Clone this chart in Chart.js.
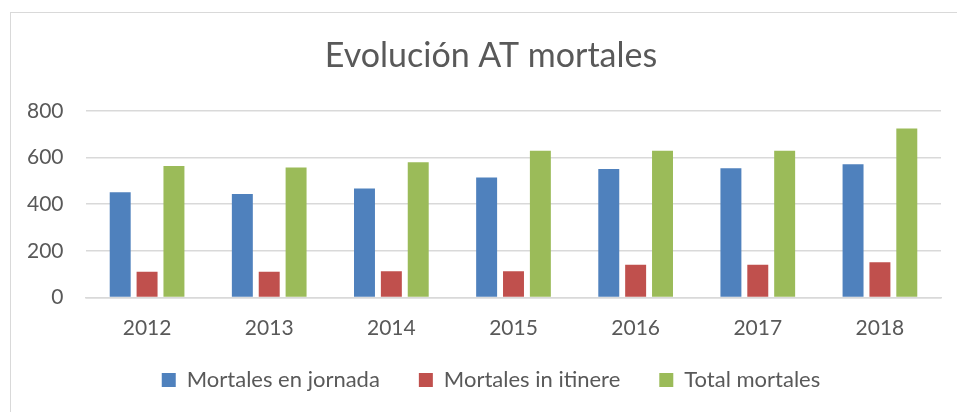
<!DOCTYPE html>
<html>
<head>
<meta charset="utf-8">
<script src="https://cdn.jsdelivr.net/npm/chart.js@4"></script>
<style>
    html, body { margin: 0; padding: 0; background: #fff; overflow: hidden; }
    .chart-box {
        position: absolute;
        left: 10px;
        top: 12px;
        width: 962px;
        height: 400px;
        border-left: 1px solid #d9d9d9;
        border-top: 1px solid #d9d9d9;
    }
</style>
</head>
<body>
<div class="chart-box">
    <canvas id="atChart" width="962" height="400"></canvas>
</div>
<script>
// Data
const years = ['2012', '2013', '2014', '2015', '2016', '2017', '2018'];
const mortalesJornada = [451, 444, 467, 514, 551, 554, 571];
const mortalesItinere = [110, 110, 113, 113, 140, 140, 151];
const totalMortales = [563, 557, 580, 629, 629, 629, 724];
const yTicks = [0, 200, 400, 600, 800];

const textColor = '#595959';
const fontFamily = 'Lato, "Open Sans", sans-serif';

document.addEventListener('DOMContentLoaded', function() {
    const ctx = document.getElementById('atChart').getContext('2d');
    const atChart = new Chart(ctx, {
        type: 'bar',
        data: {
            labels: years,
            datasets: [
                { label: 'Mortales en jornada', data: mortalesJornada, backgroundColor: '#4F81BD' },
                { label: 'Mortales in itinere', data: mortalesItinere, backgroundColor: '#C0504D' },
                { label: 'Total mortales', data: totalMortales, backgroundColor: '#9BBB59' }
            ]
        },
        options: {
            responsive: false,
            animation: false,
            layout: {
                padding: { left: 30, right: 32, top: 0, bottom: 12 }
            },
            datasets: {
                bar: {
                    barPercentage: 0.78,
                    categoryPercentage: 0.66
                }
            },
            plugins: {
                title: {
                    display: true,
                    text: 'Evolución AT mortales',
                    color: textColor,
                    font: { family: fontFamily, size: 34, weight: 'normal' },
                    padding: { top: 23, bottom: 34 }
                },
                legend: {
                    position: 'bottom',
                    labels: {
                        color: textColor,
                        font: { family: fontFamily, size: 22 },
                        boxWidth: 14,
                        boxHeight: 14,
                        padding: 39
                    }
                },
                tooltip: { enabled: false }
            },
            scales: {
                x: {
                    // mirrored so the labels are not clipped to the thin axis box
                    afterFit: function(scale) {
                        scale.height = 32.5;
                    },
                    grid: { display: false, drawTicks: false },
                    border: { color: '#d9d9d9', width: 1.5 },
                    ticks: {
                        mirror: true,
                        color: textColor,
                        font: { family: fontFamily, size: 21 },
                        padding: -43
                    }
                },
                y: {
                    min: 0,
                    max: 800,
                    afterBuildTicks: function(scale) {
                        scale.ticks = yTicks.map(v => ({ value: v }));
                    },
                    afterFit: function(scale) {
                        scale.width = 45;
                    },
                    grid: { color: '#d9d9d9', lineWidth: 1.5, drawTicks: false },
                    border: { display: false },
                    ticks: {
                        mirror: true,
                        crossAlign: 'far',
                        color: textColor,
                        font: { family: fontFamily, size: 21 },
                        padding: -59
                    }
                }
            }
        }
    });
});
</script>
</body>
</html>
